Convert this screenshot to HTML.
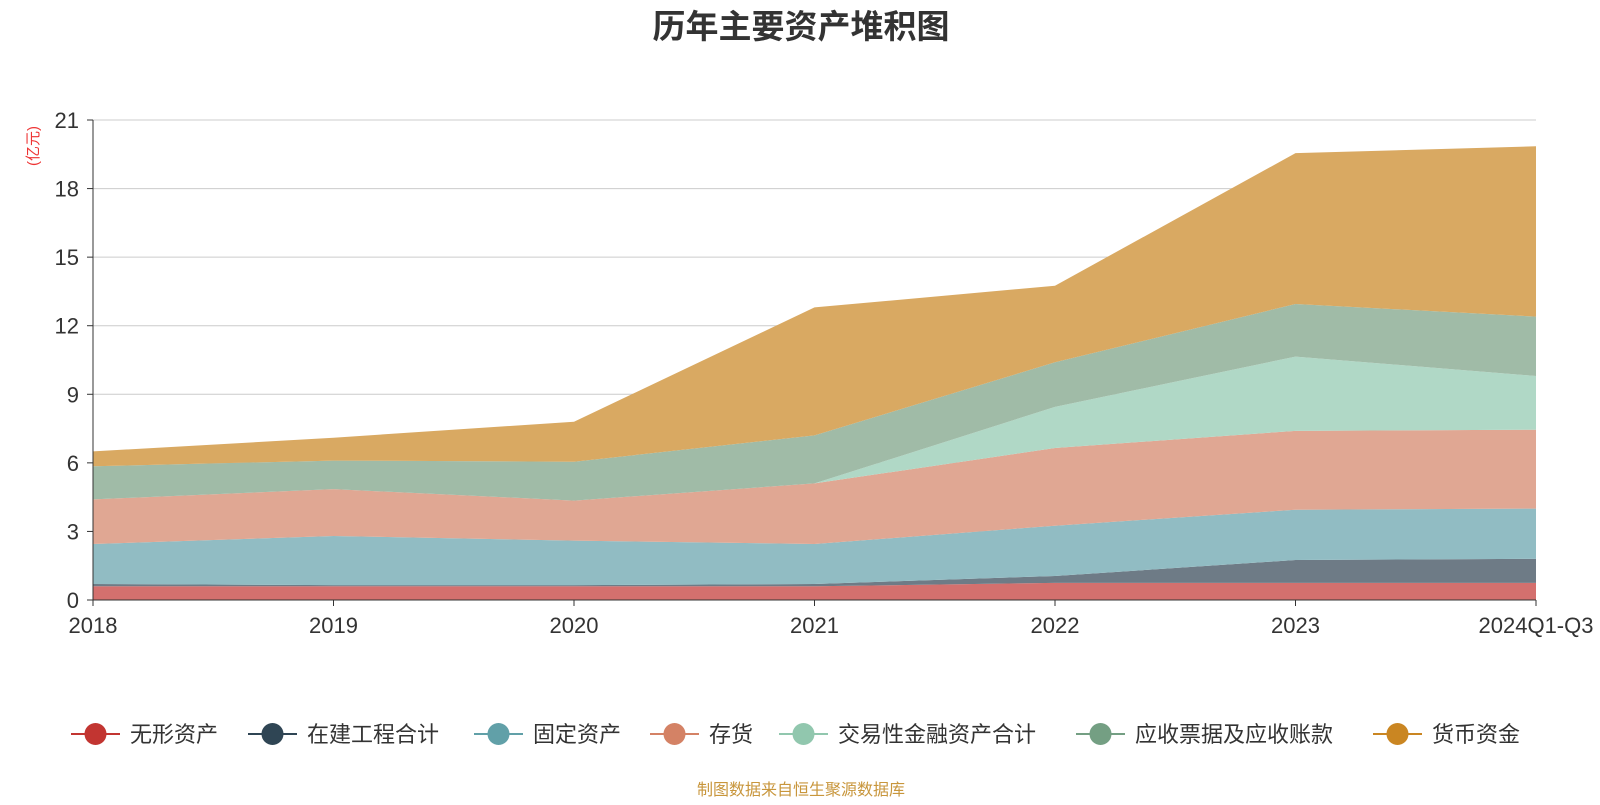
<!DOCTYPE html>
<html><head><meta charset="utf-8"><style>
body{margin:0;background:#fff;font-family:"Liberation Sans","Noto Sans CJK SC",sans-serif}
svg text{font-family:"Liberation Sans","Noto Sans CJK SC",sans-serif}
</style></head><body>
<svg id="chart" width="1600" height="800">
<text x="801" y="38" text-anchor="middle" font-size="33" font-weight="bold" fill="#333">历年主要资产堆积图</text>
<text transform="translate(38,146) rotate(-90)" text-anchor="middle" font-size="15" fill="#e33">(亿元)</text>
<g id="grid"></g><g id="areas"></g><g id="axes"></g><g id="legend"></g>
<text x="801" y="795" text-anchor="middle" font-size="16" fill="#c8963c">制图数据来自恒生聚源数据库</text>
</svg>
<script>
const categories=["2018","2019","2020","2021","2022","2023","2024Q1-Q3"];
const seriesNames=["无形资产","在建工程合计","固定资产","存货","交易性金融资产合计","应收票据及应收账款","货币资金"];
const intangible=[0.6,0.6,0.6,0.6,0.75,0.75,0.75];
const construction=[0.1,0.05,0.05,0.1,0.3,1.0,1.05];
const fixedAssets=[1.75,2.15,1.95,1.75,2.2,2.2,2.2];
const inventory=[1.95,2.05,1.75,2.65,3.4,3.45,3.45];
const trading=[0,0,0,0,1.8,3.25,2.35];
const receivables=[1.45,1.25,1.7,2.1,1.95,2.3,2.6];
const cash=[0.65,1.0,1.75,5.6,3.35,6.6,7.45];
const yTicks=[0,3,6,9,12,15,18,21];
const series=[intangible,construction,fixedAssets,inventory,trading,receivables,cash];
const fills=["#d4706e","#6e7b86","#91bcc3","#e0a793","#b0d8c6","#a0bba7","#d9a962"];
const legendColors=["#c23531","#2f4554","#61a0a8","#d48265","#91c7ae","#749f83","#ca8622"];
const NS="http://www.w3.org/2000/svg";
const x0=93,x1=1536,y0=600,y1=120,yMax=21;
const xs=i=>x0+(x1-x0)*i/(categories.length-1);
const ys=v=>y0-(y0-y1)*v/yMax;
function mk(t,a,p){const e=document.createElementNS(NS,t);for(const k in a)e.setAttribute(k,a[k]);p.appendChild(e);return e;}
const grid=document.getElementById('grid'),areas=document.getElementById('areas'),axes=document.getElementById('axes'),legend=document.getElementById('legend');
yTicks.forEach(v=>{
 if(v>0){const g=mk('line',{x1:x0,x2:x1,y1:ys(v),y2:ys(v),stroke:'#ccc'},grid);
 
 }
 const t=mk('line',{x1:x0-6,x2:x0,y1:ys(v),y2:ys(v),stroke:'#333'},axes);
 
 
 const l=mk('text',{x:x0-14,y:ys(v)+8,'text-anchor':'end','font-size':22,fill:'#333'},axes);l.textContent=v;
 
 
});
let base=categories.map(()=>0);
series.forEach((s,si)=>{
 const top=base.map((b,i)=>b+s[i]);
 let d='M'+top.map((v,i)=>xs(i)+','+ys(v)).join('L');
 for(let i=categories.length-1;i>=0;i--)d+='L'+xs(i)+','+ys(base[i]);
 const p=mk('path',{d:d+'Z',fill:fills[si]},areas);
 
 
 base=top;
});
mk('line',{x1:x0,x2:x0,y1:y1,y2:y0,stroke:'#333'},axes);
mk('line',{x1:x0,x2:x1,y1:y0,y2:y0,stroke:'#333'},axes);
categories.forEach((c,i)=>{
 mk('line',{x1:xs(i),x2:xs(i),y1:y0,y2:y0+6,stroke:'#333'},axes);
 const t=mk('text',{x:xs(i),y:633,'text-anchor':'middle','font-size':22,fill:'#333'},axes);t.textContent=c;
 
 
});
const lx=[71,248,474,650,779,1076,1373];
seriesNames.forEach((n,i)=>{
 const g=mk('g',{},legend);
 
 
 mk('line',{x1:lx[i],x2:lx[i]+49,y1:734,y2:734,stroke:legendColors[i],'stroke-width':2},g);
 mk('circle',{cx:lx[i]+24.5,cy:734,r:11,fill:legendColors[i]},g);
 const t=mk('text',{x:lx[i]+59,y:742,'font-size':22,fill:'#333'},g);t.textContent=n;
});
</script>
</body></html>
